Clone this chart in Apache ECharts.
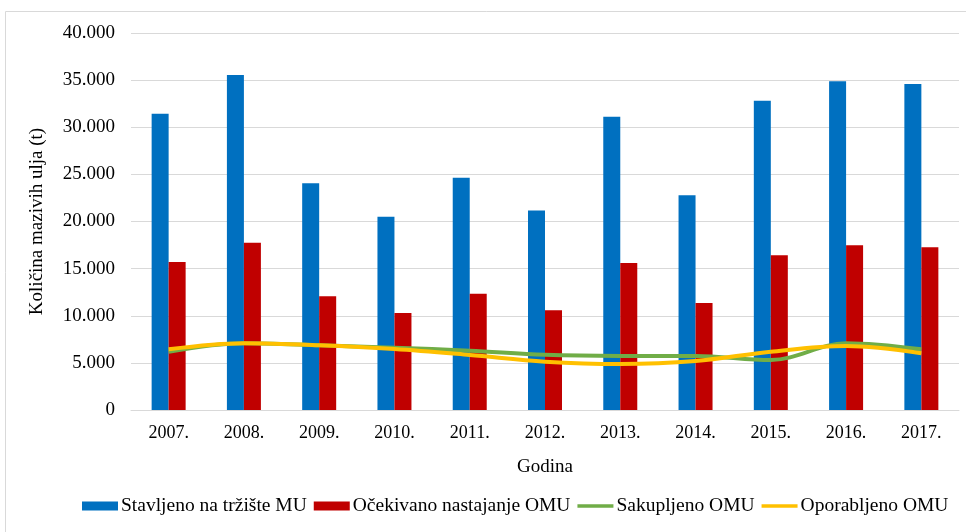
<!DOCTYPE html>
<html>
<head>
<meta charset="utf-8">
<script src="https://cdn.jsdelivr.net/npm/echarts@6/dist/echarts.min.js"></script>
<style>html,body{margin:0;padding:0;background:#fff}#c{width:966px;height:532px}</style>
</head>
<body>
<div id="c"></div>
<script>
const categories = ['2007.', '2008.', '2009.', '2010.', '2011.', '2012.', '2013.', '2014.', '2015.', '2016.', '2017.'];
const stavljeno = [31440, 35540, 24050, 20510, 24650, 21180, 31120, 22780, 32820, 34870, 34590];
const ocekivano = [15700, 17750, 12060, 10290, 12340, 10580, 15600, 11350, 16410, 17470, 17260];
const sakupljeno = [6190, 7080, 6870, 6610, 6290, 5850, 5730, 5730, 5300, 7080, 6440];
const oporabljeno = [6440, 7080, 6870, 6470, 5840, 5130, 4880, 5200, 6190, 6790, 6020];
const seriesNames = ['Stavljeno na tržište MU', 'Očekivano nastajanje OMU', 'Sakupljeno OMU', 'Oporabljeno OMU'];

const FONT = '"Liberation Serif", "Times New Roman", serif';
const chart = echarts.init(document.getElementById('c'), null, {renderer: 'canvas'});
const fmt = v => v === 0 ? '0' : v.toLocaleString('en-US').replace(/,/g, '.');
const lineIcon = 'path://M0,0L40,0L40,4L0,4Z';
chart.setOption({
  animation: false,
  textStyle: {fontFamily: FONT, color: '#000'},
  graphic: [{
    type: 'rect', shape: {x: 5.5, y: 11.5, width: 1200, height: 800},
    style: {fill: 'none', stroke: '#d9d9d9', lineWidth: 1}, silent: true
  }],
  grid: {left: 131, right: 7, top: 33, bottom: 122, containLabel: false},
  legend: {
    left: 82, top: 496, padding: 0, itemWidth: 36, itemHeight: 9, itemGap: 7,
    textStyle: {fontFamily: FONT, fontSize: 19.5, color: '#000', padding: [0, 0, 0, -2]},
    data: [
      {name: seriesNames[0], icon: 'rect'},
      {name: seriesNames[1], icon: 'rect'},
      {name: seriesNames[2], icon: lineIcon},
      {name: seriesNames[3], icon: lineIcon}
    ]
  },
  xAxis: {
    type: 'category', data: categories,
    name: 'Godina', nameLocation: 'middle', nameGap: 48,
    nameTextStyle: {fontFamily: FONT, fontSize: 19, color: '#000'},
    axisLine: {lineStyle: {color: '#d9d9d9', width: 1}},
    axisTick: {show: false},
    axisLabel: {fontFamily: FONT, fontSize: 18, color: '#000', margin: 14}
  },
  yAxis: {
    type: 'value', min: 0, max: 40000, interval: 5000,
    name: 'Količina mazivih ulja (t)', nameLocation: 'middle', nameGap: 84, nameRotate: 90,
    nameTextStyle: {fontFamily: FONT, fontSize: 19, color: '#000'},
    axisLine: {show: false}, axisTick: {show: false},
    splitLine: {lineStyle: {color: '#d9d9d9', width: 1}},
    axisLabel: {fontFamily: FONT, fontSize: 19, color: '#000', margin: 16, formatter: fmt}
  },
  series: [
    {name: seriesNames[0], type: 'bar', data: stavljeno, barWidth: 17, barGap: '0%',
     itemStyle: {color: '#0070c0'}},
    {name: seriesNames[1], type: 'bar', data: ocekivano, barWidth: 17, barGap: '0%',
     itemStyle: {color: '#c00000'}},
    {name: seriesNames[2], type: 'line', data: sakupljeno, smooth: 0.35, symbol: 'none',
     lineStyle: {color: '#70ad47', width: 4}, itemStyle: {color: '#70ad47'}},
    {name: seriesNames[3], type: 'line', data: oporabljeno, smooth: 0.35, symbol: 'none',
     lineStyle: {color: '#ffc000', width: 4}, itemStyle: {color: '#ffc000'}}
  ]
});
</script>
</body>
</html>
